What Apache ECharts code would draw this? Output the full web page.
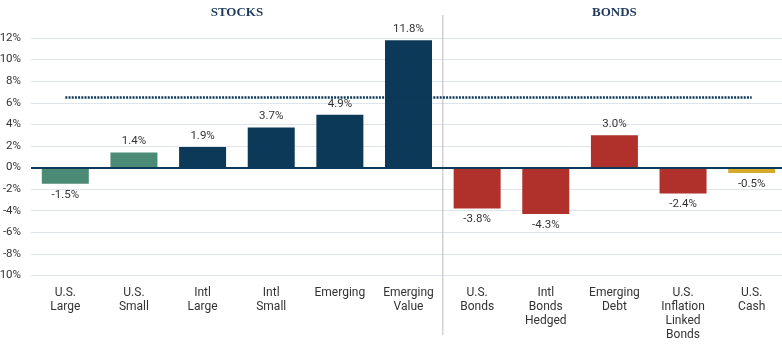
<!DOCTYPE html>
<html>
<head>
<meta charset="utf-8">
<script src="https://cdn.jsdelivr.net/npm/echarts@6/dist/echarts.min.js"></script>
<style>
  html, body { margin: 0; padding: 0; background: #fff; }
  #chart { width: 782px; height: 350px; }
</style>
</head>
<body>
<div id="chart"></div>
<script>
  // categories and returns (%)
  var categories = ['U.S.\nLarge', 'U.S.\nSmall', 'Intl\nLarge', 'Intl\nSmall', 'Emerging', 'Emerging\nValue',
                    'U.S.\nBonds', 'Intl\nBonds\nHedged', 'Emerging\nDebt', 'U.S.\nInflation\nLinked\nBonds', 'U.S.\nCash'];
  var returns = [-1.5, 1.4, 1.9, 3.7, 4.9, 11.8, -3.8, -4.3, 3.0, -2.4, -0.5];
  var groups = ['us', 'us', 'stock', 'stock', 'stock', 'stock', 'bond', 'bond', 'bond', 'bond', 'cash'];
  var benchmark = 6.5;
  var sections = [{ name: 'STOCKS', from: 0, to: 5 }, { name: 'BONDS', from: 6, to: 10 }];

  var colors = { us: '#4b8a75', stock: '#0c3957', bond: '#b0312c', cash: '#d6aa2b' };
  var font = 'Roboto, sans-serif';

  var chart = echarts.init(document.getElementById('chart'));

  var barData = returns.map(function(v, i){
    return {
      value: v,
      itemStyle: { color: colors[groups[i]] },
      label: { position: v < 0 ? 'bottom' : 'top' }
    };
  });

  chart.setOption({
    animation: false,
    grid: { left: 31, right: -4, top: 38, bottom: 74.5, outerBoundsMode: 'none' },
    xAxis: {
      type: 'category',
      data: categories,
      axisLine: { show: false },
      axisTick: { show: false },
      axisLabel: { color: '#333', fontFamily: font, fontSize: 12, lineHeight: 14, margin: 10, interval: 0 }
    },
    yAxis: {
      type: 'value',
      min: -10, max: 12, interval: 2,
      axisLabel: { formatter: '{value}%', color: '#333', fontFamily: font, fontSize: 11.5, margin: 10 },
      splitLine: { lineStyle: { color: '#dfe4ea', width: 1 } }
    },
    series: [{
      type: 'bar',
      data: barData,
      barWidth: 47,
      label: {
        show: true, color: '#333', fontFamily: font, fontSize: 11.5, distance: 5,
        formatter: function(p){ return p.value.toFixed(1) + '%'; }
      },
      markLine: {
        silent: true,
        symbol: 'none',
        label: { show: false },
        data: [
          { yAxis: 0, lineStyle: { color: '#0c3957', width: 2, type: 'solid' } },
          [{ coord: [0, benchmark], lineStyle: { color: '#0c3957', width: 2.5, type: [2, 1.2] } },
           { coord: [categories.length - 1, benchmark] }]
        ]
      },
      z: 2
    }]
  });

  // section divider and headers placed from the category scale
  function px(i){ return chart.convertToPixel({ xAxisIndex: 0 }, i); }
  var graphics = [];
  var divX = (px(sections[0].to) + px(sections[1].from)) / 2;
  graphics.push({
    type: 'line', silent: true, z: 0,
    shape: { x1: divX, y1: 15, x2: divX, y2: 335 },
    style: { stroke: '#b9bcc0', lineWidth: 1 }
  });
  sections.forEach(function(s){
    graphics.push({
      type: 'text', silent: true,
      x: (px(s.from) + px(s.to)) / 2, y: 13,
      style: {
        text: s.name, fill: '#1f3a5c', font: 'bold 13px "Liberation Serif", "DejaVu Serif", serif',
        align: 'center', verticalAlign: 'middle'
      }
    });
  });
  chart.setOption({ graphic: graphics });
</script>
</body>
</html>
